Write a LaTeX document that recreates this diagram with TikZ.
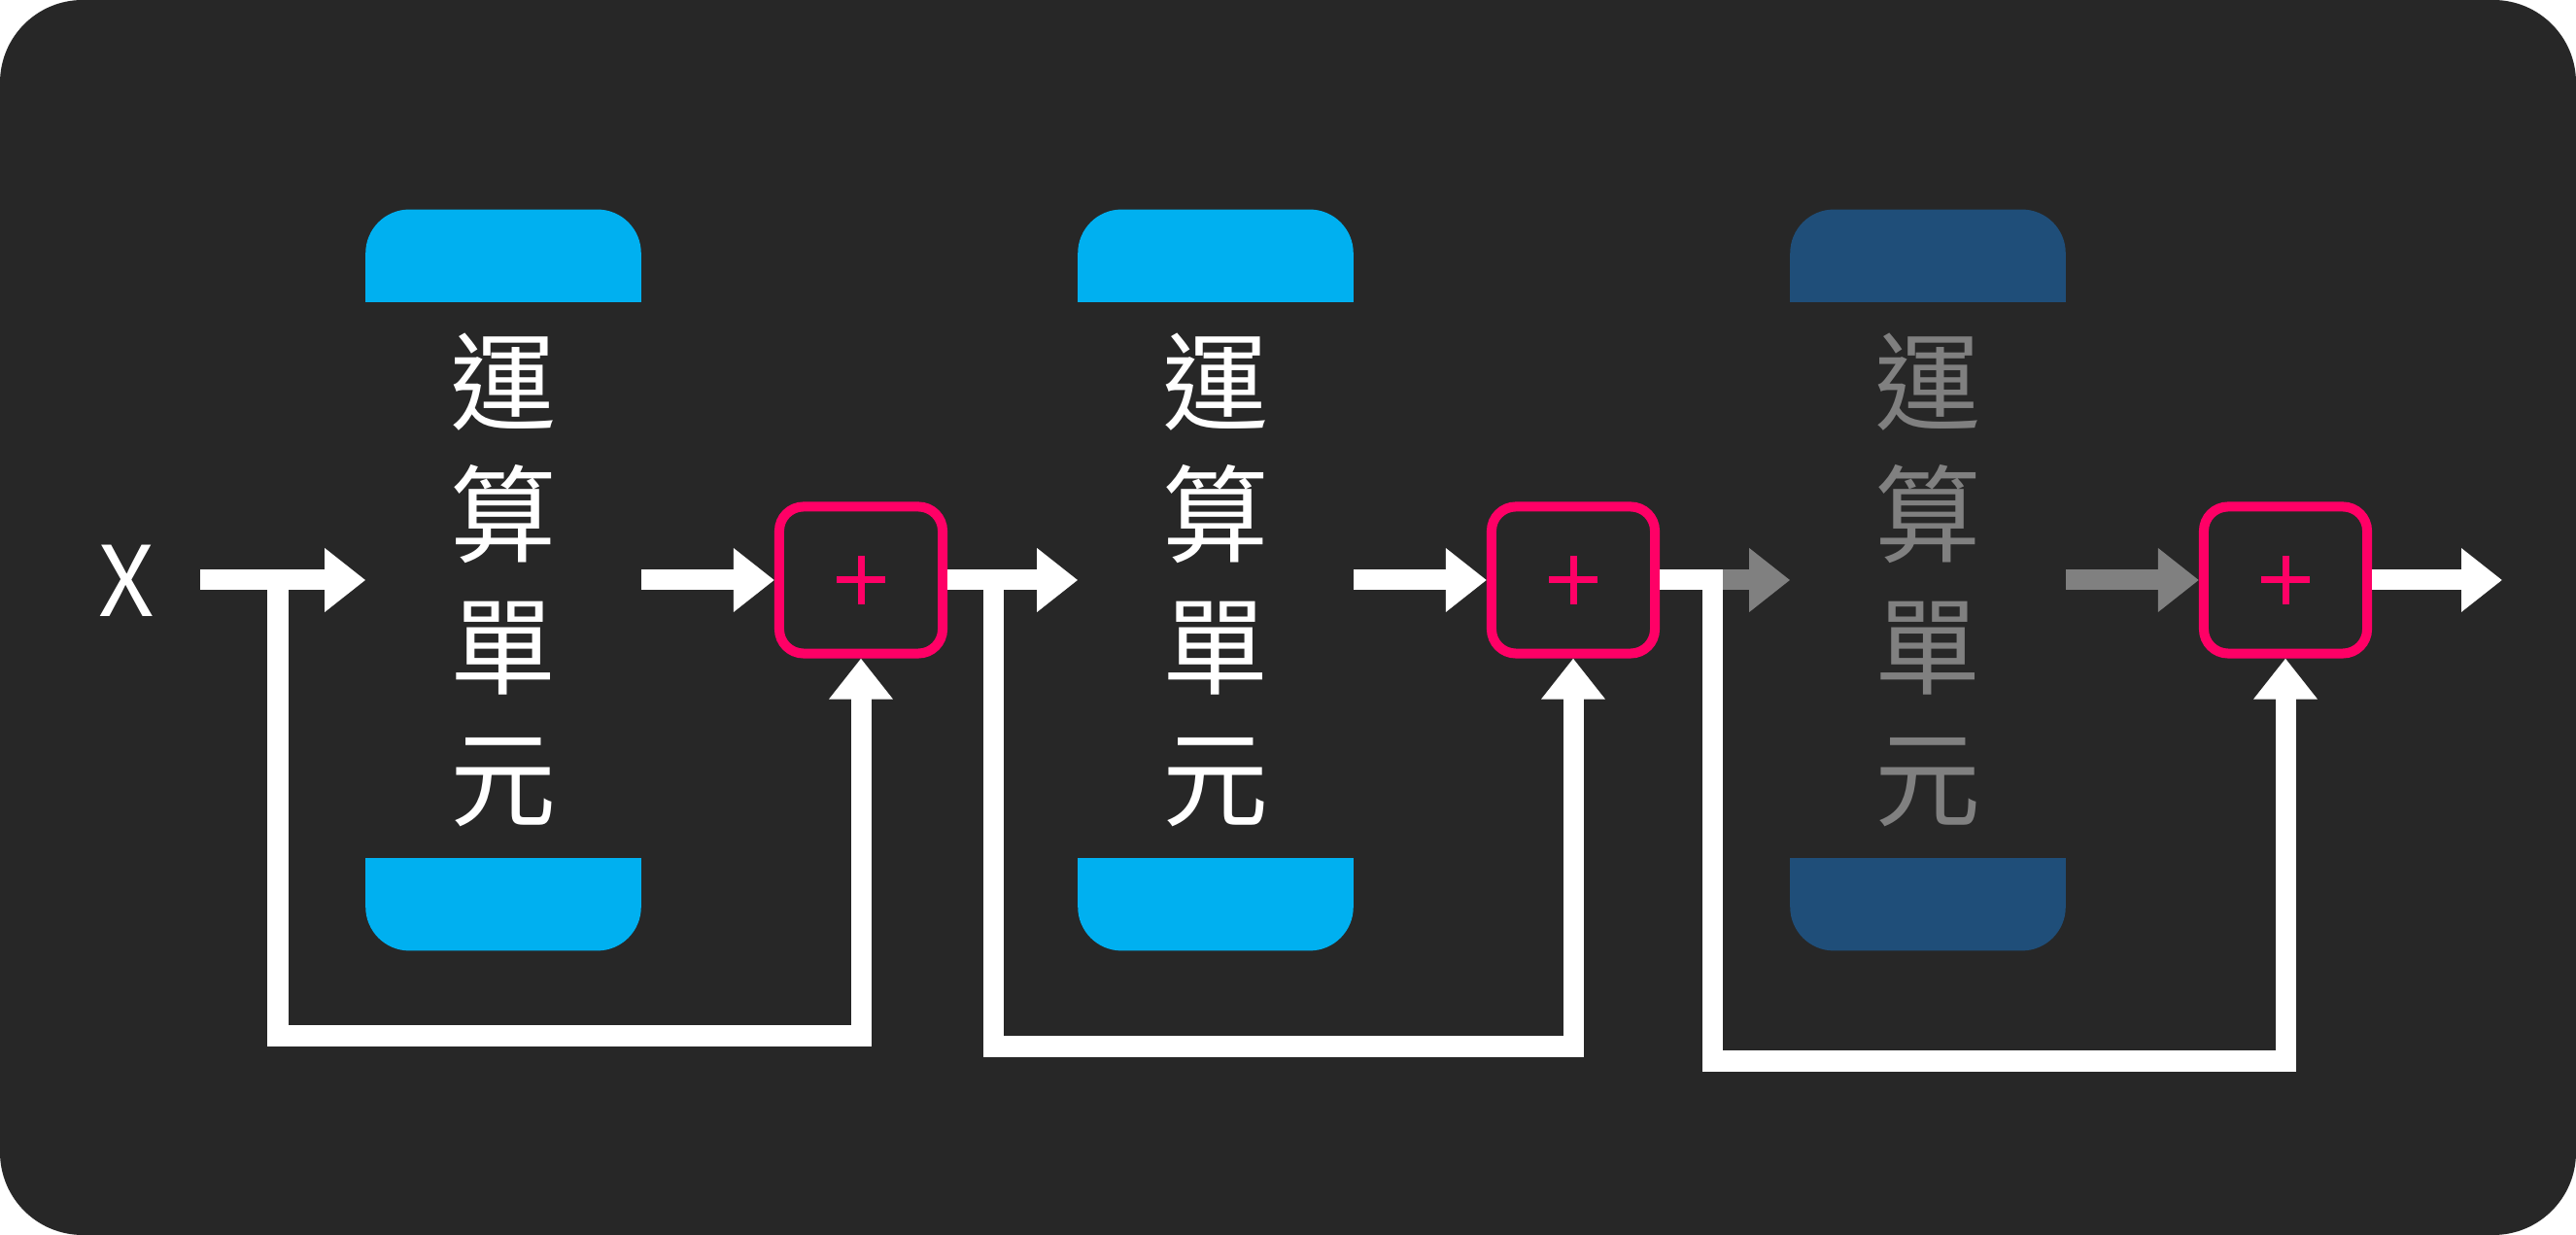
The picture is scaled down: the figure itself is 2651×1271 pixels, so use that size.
\documentclass[tikz,border=0pt]{standalone}
\usepackage{fontspec}
\newfontfamily\cjk{Noto Sans CJK TC}
\usetikzlibrary{arrows.meta,calc}
\definecolor{bgdark}{HTML}{272727}
\definecolor{capcyan}{HTML}{00B0F0}
\definecolor{capnavy}{HTML}{1F4E79}
\definecolor{sumpink}{HTML}{FF0066}
\definecolor{dimgray}{HTML}{808080}

\begin{document}
\begin{tikzpicture}[x=0.01cm,y=-0.01cm,
  unit/.style={minimum width=2.82cm, minimum height=7.61cm, inner sep=0pt,
    align=center, font=\cjk\fontsize{31}{38.7}\selectfont, text=white},
  sumbox/.style={draw=sumpink, line width=0.1cm, rounded corners=0.25cm,
    minimum width=1.68cm, minimum height=1.51cm, inner sep=0pt},
  wire/.style={line width=0.21cm, draw=white},
  flow/.style={wire, -{Triangle[length=0.42cm,width=0.63cm]}},
  dimflow/.style={flow, draw=dimgray},
  plussign/.style={draw=sumpink, line width=0.07cm},
]
\useasboundingbox (0,0) rectangle (2651,1271);
\fill[white] (0,0) rectangle (2651,1271);
\fill[bgdark, rounded corners=0.85cm] (0,0) rectangle (2651,1271);

% the three computing units
\node[unit] (u1) at (518,597) {運\\算\\單\\元};
\node[unit] (u2) at (1251,597) {運\\算\\單\\元};
\node[unit, text=dimgray] (u3) at (1984,597) {運\\算\\單\\元};

% caps above and below each unit
\foreach \u/\c in {u1/capcyan, u2/capcyan, u3/capnavy}{
  \fill[\c, rounded corners=0.45cm] (\u.north west) rectangle ($(\u.north east)+(0,95)$);
  \fill[\c] ($(\u.north west)+(0,50)$) rectangle ($(\u.north east)+(0,95)$);
  \fill[\c, rounded corners=0.45cm] ($(\u.south west)+(0,-95)$) rectangle (\u.south east);
  \fill[\c] ($(\u.south west)+(0,-95)$) rectangle ($(\u.south east)+(0,-50)$);
}

% summing junctions
\node[sumbox] (p1) at (886,597) {};
\node[sumbox] (p2) at (1619,597) {};
\node[sumbox] (p3) at (2352,597) {};
\foreach \p in {p1,p2,p3}{
  \draw[plussign] ($(\p)+(-25,0)$) -- ($(\p)+(25,0)$);
  \draw[plussign] ($(\p)+(0,-25)$) -- ($(\p)+(0,25)$);
}

% input
\node[font=\cjk\fontsize{28.5}{28.5}\selectfont, text=white] (xin) at (130,598) {X};
\coordinate (in) at (206,597);
\coordinate (b1) at (286,597);
\coordinate (b2) at (1022,597);
\coordinate (b3) at (1762,597);
\coordinate (out) at (2575,597);

% forward path
\draw[flow] (in) -- (u1.west);
\draw[flow] (u1.east) -- (p1.west);
\draw[flow] (p1.east) -- (u2.west);
\draw[flow] (u2.east) -- (p2.west);
\draw[dimflow] (p2.east) -- (u3.west);
\draw[dimflow] (u3.east) -- (p3.west);
\draw[flow] (p3.east) -- (out);

% residual connections
\draw[flow] (b1) -- ++(0,469) -| (p1.south);
\draw[flow] (b2) -- ++(0,480) -| (p2.south);
\draw[flow] (p2.east) -- (b3) -- ++(0,495) -| (p3.south);
\end{tikzpicture}
\end{document}
